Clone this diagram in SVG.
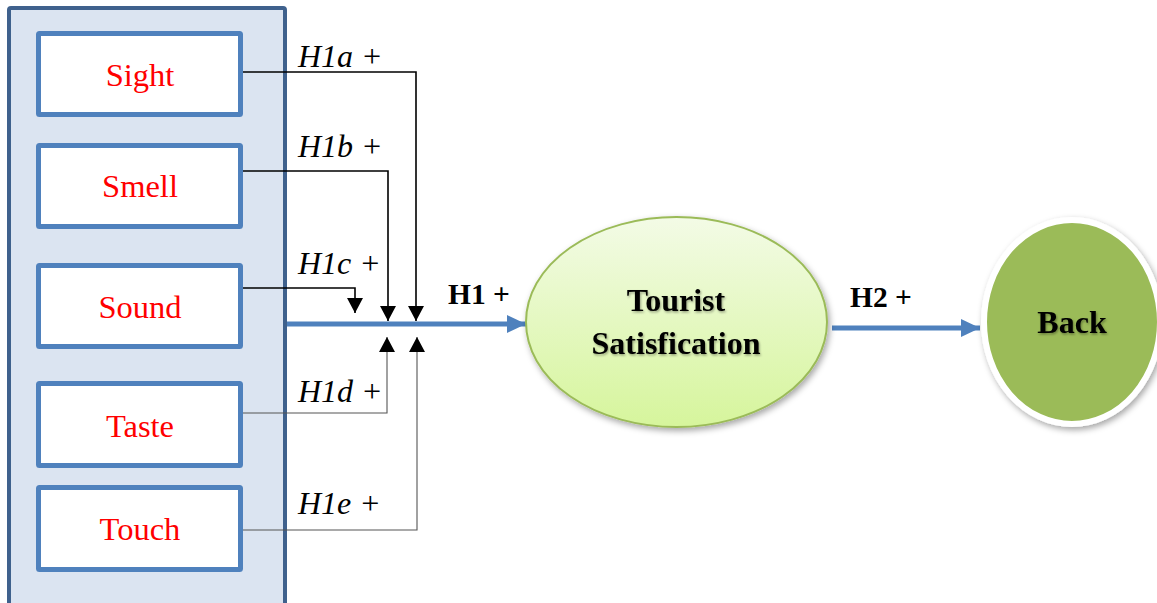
<svg xmlns="http://www.w3.org/2000/svg" width="1157" height="603" viewBox="0 0 1157 603">
<style>
.box{fill:#fff;stroke:#4F81BD;stroke-width:5}
.lbl{font-family:"Liberation Serif",serif;font-size:32.5px;fill:#FF0000;text-anchor:middle}
.hyp{font-family:"Liberation Serif",serif;font-size:32px;font-style:italic;fill:#000}
.bold{font-family:"Liberation Serif",serif;font-weight:bold;fill:#000}
.blk{fill:none;stroke:#000;stroke-width:1.6}
.gry{fill:none;stroke:#555;stroke-width:1.1}
.blue{fill:none;stroke:#4F81BD;stroke-width:5}
</style>
<defs>
<marker id="ah" markerUnits="userSpaceOnUse" markerWidth="16" markerHeight="16" refX="15" refY="8" orient="auto">
<path d="M0,0 L15,8 L0,16 z" fill="#000"/>
</marker>
<marker id="bh" markerUnits="userSpaceOnUse" markerWidth="20" markerHeight="18" refX="19" refY="9" orient="auto">
<path d="M0,0 L19,9 L0,18 z" fill="#4F81BD"/>
</marker>
<linearGradient id="tg" x1="0" y1="0" x2="0" y2="1">
<stop offset="0" stop-color="#F3FBE6"/>
<stop offset="1" stop-color="#D6F59C"/>
</linearGradient>
<filter id="sh" x="-20%" y="-20%" width="140%" height="140%">
<feDropShadow dx="2" dy="3" stdDeviation="3" flood-color="#000" flood-opacity="0.35"/>
</filter>
<filter id="ts" x="-10%" y="-10%" width="120%" height="130%">
<feDropShadow dx="1" dy="1.5" stdDeviation="1" flood-color="#000" flood-opacity="0.35"/>
</filter>
</defs>

<g id="container">
<rect x="9" y="8" width="276" height="610" rx="2" fill="#DBE4F1" stroke="#3F618D" stroke-width="4"/>
</g>

<g id="sight"><rect class="box" x="38.5" y="33.5" width="202" height="81" rx="1"/><text class="lbl" x="140" y="86">Sight</text></g>
<g id="smell"><rect class="box" x="38.5" y="145.5" width="202" height="81" rx="1"/><text class="lbl" x="140" y="197">Smell</text></g>
<g id="sound"><rect class="box" x="38.5" y="265.5" width="202" height="81" rx="1"/><text class="lbl" x="140" y="318">Sound</text></g>
<g id="taste"><rect class="box" x="38.5" y="383.5" width="202" height="82" rx="1"/><text class="lbl" x="140" y="437">Taste</text></g>
<g id="touch"><rect class="box" x="38.5" y="487.5" width="202" height="82" rx="1"/><text class="lbl" x="140" y="540">Touch</text></g>

<g id="connectors">
<path class="blk" d="M243,72 H416 V321" marker-end="url(#ah)"/>
<path class="blk" d="M243,171 H388 V321" marker-end="url(#ah)"/>
<path class="blk" d="M243,288 H355 V313" marker-end="url(#ah)"/>
<path class="gry" d="M243,413 H387 V337" marker-end="url(#ah)"/>
<path class="gry" d="M243,530 H417 V337" marker-end="url(#ah)"/>
<path class="blue" d="M287,324 H526" marker-end="url(#bh)"/>
<path class="blue" d="M832,328 H980" marker-end="url(#bh)"/>
<text class="hyp" x="298" y="67">H1a +</text>
<text class="hyp" x="298" y="157">H1b +</text>
<text class="hyp" x="298" y="274">H1c +</text>
<text class="hyp" x="298" y="402">H1d +</text>
<text class="hyp" x="298" y="514">H1e +</text>
<text class="bold" x="448" y="304" style="font-size:29.5px">H1 +</text>
<text class="bold" x="850" y="307" style="font-size:29.5px">H2 +</text>
</g>

<g id="tourist">
<ellipse cx="676.5" cy="322" rx="150.5" ry="105" fill="url(#tg)" stroke="#9BBB59" stroke-width="2" filter="url(#sh)"/>
<g filter="url(#ts)">
<text class="bold" x="676" y="311" text-anchor="middle" style="font-size:32px">Tourist</text>
<text class="bold" x="676" y="354" text-anchor="middle" style="font-size:32px">Satisfication</text>
</g>
</g>

<g id="back">
<ellipse cx="1072" cy="322" rx="88" ry="102" fill="#9BBB59" stroke="#fff" stroke-width="6" filter="url(#sh)"/>
<text class="bold" x="1072" y="333" text-anchor="middle" style="font-size:32px" filter="url(#ts)">Back</text>
</g>
</svg>
